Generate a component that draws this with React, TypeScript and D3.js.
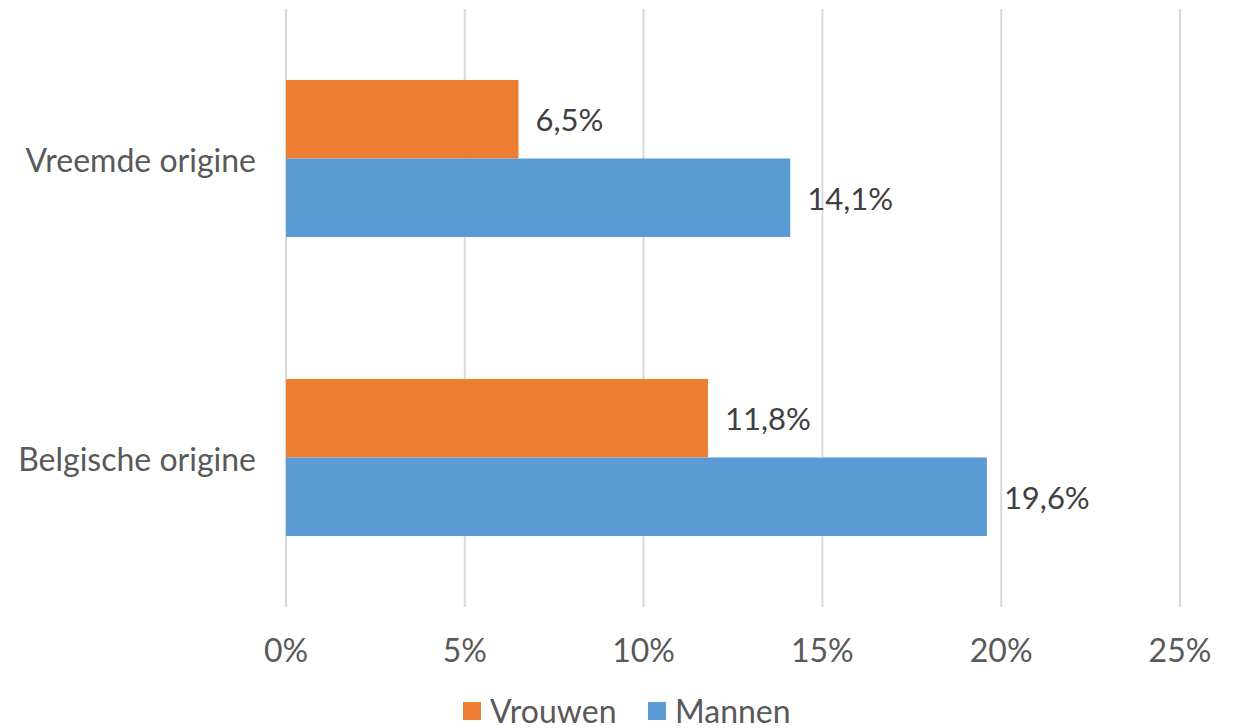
import React, { useEffect, useRef } from 'react';
import * as d3 from 'd3';

const categories = ['Vreemde origine', 'Belgische origine'];
const seriesNames = ['Vrouwen', 'Mannen'];
const vrouwen = [6.5, 11.8];
const mannen = [14.1, 19.6];
const xTicks = [0, 5, 10, 15, 20, 25];

const colors = ['#ED7D31', '#5B9BD5'];
const font = 'Lato, "Open Sans", sans-serif';

const App = () => {
  const ref = useRef<SVGSVGElement>(null);

  useEffect(() => {
    if (!ref.current) return;
    const width = 1240;
    const height = 728;
    const svg = d3.select(ref.current);
    svg.selectAll('*').remove();

    const x = d3.scaleLinear().domain([0, 25]).range([286, 1180]);
    const y = d3.scaleBand<string>()
      .domain(categories)
      .range([9, 607])
      .paddingInner(0.475)
      .paddingOuter(0.2375);
    const ySub = d3.scaleBand<string>()
      .domain(seriesNames)
      .range([0, y.bandwidth()]);

    // rasterlijnen
    svg.append('g')
      .selectAll('line')
      .data(xTicks)
      .join('line')
      .attr('x1', d => x(d))
      .attr('x2', d => x(d))
      .attr('y1', 9)
      .attr('y2', 607)
      .attr('stroke', '#d9d9d9')
      .attr('stroke-width', 2);

    // tick labels
    svg.append('g')
      .selectAll('text')
      .data(xTicks)
      .join('text')
      .attr('x', d => x(d))
      .attr('y', 662)
      .attr('text-anchor', 'middle')
      .attr('fill', '#595959')
      .style('font-family', font)
      .style('font-size', '32px')
      .text(d => `${d}%`);

    // categorie labels
    svg.append('g')
      .selectAll('text')
      .data(categories)
      .join('text')
      .attr('x', 256)
      .attr('y', d => (y(d) as number) + y.bandwidth() / 2 + 2)
      .attr('dy', '0.35em')
      .attr('text-anchor', 'end')
      .attr('fill', '#595959')
      .style('font-family', font)
      .style('font-size', '32px')
      .text(d => d);

    const series = [vrouwen, mannen];
    series.forEach((vals, si) => {
      const g = svg.append('g');
      g.selectAll('rect')
        .data(categories)
        .join('rect')
        .attr('x', x(0))
        .attr('y', d => (y(d) as number) + (ySub(seriesNames[si]) as number))
        .attr('width', (d, i) => x(vals[i]) - x(0))
        .attr('height', ySub.bandwidth())
        .attr('fill', colors[si]);

      g.selectAll('text')
        .data(categories)
        .join('text')
        .attr('x', (d, i) => x(vals[i]) + 17)
        .attr('y', d => (y(d) as number) + (ySub(seriesNames[si]) as number) + ySub.bandwidth() / 2 + 1)
        .attr('dy', '0.35em')
        .attr('fill', '#404040')
        .style('font-family', font)
        .style('font-size', '31px')
        .text((d, i) => `${vals[i].toFixed(1).replace('.', ',')}%`);
    });

    // legenda
    const legendX = [463, 648];
    seriesNames.forEach((name, i) => {
      svg.append('rect')
        .attr('x', legendX[i])
        .attr('y', 702)
        .attr('width', 18)
        .attr('height', 18)
        .attr('fill', colors[i]);
      svg.append('text')
        .attr('x', legendX[i] + 27)
        .attr('y', 723)
        .attr('fill', '#595959')
        .style('font-family', font)
        .style('font-size', '32px')
        .text(name);
    });

    svg.attr('width', width).attr('height', height);
  }, []);

  return (
    <svg
      ref={ref}
      width={1240}
      height={728}
      style={{ position: 'absolute', left: 0, top: 0, background: '#fff' }}
    />
  );
};

export default App;
